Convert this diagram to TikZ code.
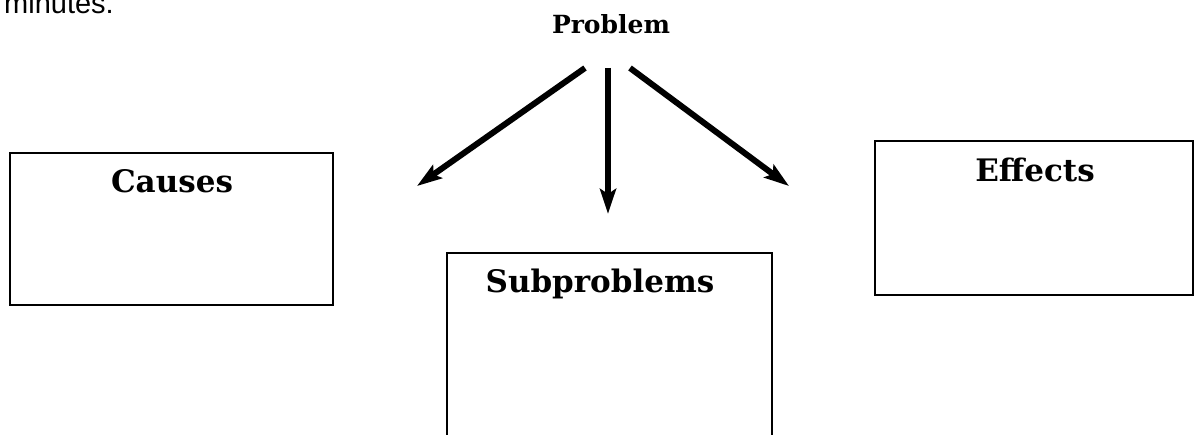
\documentclass[tikz,border=0pt]{standalone}
\usepackage{fontspec}
\newfontfamily\titlefont{DejaVu Serif}
\newfontfamily\notefont{Liberation Sans}
\usetikzlibrary{arrows.meta}
\begin{document}
\begin{tikzpicture}[x=1pt,y=-1pt,
  box/.style={draw=black,line width=2.6pt,inner sep=0pt},
  boxtitle/.style={font=\titlefont\bfseries\fontsize{31}{33}\selectfont,inner sep=0pt},
  arr/.style={line width=6pt,-{Stealth[length=25pt,width=16pt,inset=5pt]}}]
\useasboundingbox (0,0) rectangle (1199,435);
\clip (0,0) rectangle (1199,435);
\fill[white] (0,0) rectangle (1199,435);
% top-left fragment
\node[anchor=base west,font=\notefont\fontsize{29}{30}\selectfont,inner sep=0pt] (minutes) at (4,14) {minutes.};
% problem
\node[font=\titlefont\bfseries\fontsize{25}{27}\selectfont,inner sep=0pt] (problem) at (611,24) {Problem};
% boxes
\draw[box] (10,153) rectangle (333,305);
\node[box,draw=none,minimum width=323pt,minimum height=152pt] (causes) at (171.5,229) {};
\node[boxtitle] (causest) at (172,181) {Causes};
\draw[box] (447,253) rectangle (772,460);
\node[box,draw=none,minimum width=325pt,minimum height=180pt] (sub) at (609.5,343) {};
\node[boxtitle] (subt) at (600,284) {Subproblems};
\draw[box] (875,141) rectangle (1193,295);
\node[box,draw=none,minimum width=318pt,minimum height=154pt] (effects) at (1034,218) {};
\node[boxtitle] (effectst) at (1035,170) {Effects};
% arrows
\coordinate (s1) at (585,68);
\coordinate (t1) at (417,186);
\coordinate (s2) at (608,68);
\coordinate (t2) at (608,214);
\coordinate (s3) at (630,68);
\coordinate (t3) at (789,186);
\draw[arr] (s1) -- (t1);
\draw[arr] (s2) -- (t2);
\draw[arr] (s3) -- (t3);
\end{tikzpicture}
\end{document}
